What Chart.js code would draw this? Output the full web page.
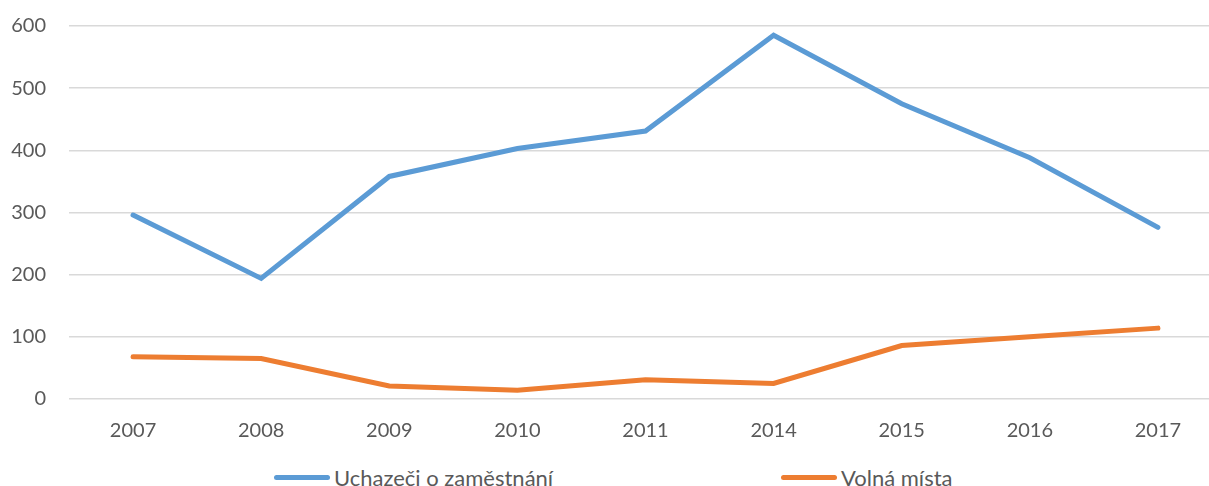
<!DOCTYPE html>
<html>
<head>
<meta charset="utf-8">
<script src="https://cdn.jsdelivr.net/npm/chart.js@4"></script>
<style>
  body { margin: 0; width: 1209px; height: 486px; overflow: hidden; background: #fff; font-family: Lato, sans-serif; }
  #wrap { position: relative; width: 1222px; height: 450px; }
  #legend { position: absolute; left: 0; top: 464px; width: 1209px; height: 26px; color: #595959; font-size: 22px; }
  .item { position: absolute; top: 0; display: flex; align-items: center; white-space: nowrap; }
  .swatch { width: 56px; height: 5px; border-radius: 3px; margin-right: 4px; }
</style>
</head>
<body>
<div id="wrap"><canvas id="lineChart"></canvas></div>
<div id="legend"></div>
<script>
// data
const years = ['2007', '2008', '2009', '2010', '2011', '2014', '2015', '2016', '2017'];
const uchazeci = [296, 194, 358, 403, 431, 585, 475, 388, 276];
const volnaMista = [68, 65, 21, 14, 31, 25, 86, 100, 114];
const seriesNames = ['Uchazeči o zaměstnání', 'Volná místa'];
const seriesColors = ['#5B9BD5', '#ED7D31'];

const ctx = document.getElementById('lineChart').getContext('2d');
const lineChart = new Chart(ctx, {
    type: 'line',
    data: {
        labels: years,
        datasets: [{
            label: seriesNames[0],
            data: uchazeci,
            borderColor: seriesColors[0],
            backgroundColor: seriesColors[0],
            borderWidth: 5,
            borderCapStyle: 'round',
            pointRadius: 0,
            tension: 0
        }, {
            label: seriesNames[1],
            data: volnaMista,
            borderColor: seriesColors[1],
            backgroundColor: seriesColors[1],
            borderWidth: 5,
            borderCapStyle: 'round',
            pointRadius: 0,
            tension: 0
        }]
    },
    options: {
        responsive: true,
        maintainAspectRatio: false,
        animation: false,
        layout: { padding: { top: 26, right: 0, bottom: 0, left: 0 } },
        plugins: {
            legend: { display: false },
            tooltip: { enabled: false }
        },
        scales: {
            x: {
                offset: true,
                grid: { display: false, offset: true },
                border: { display: false },
                ticks: { color: '#595959', font: { family: 'Lato', size: 20 }, padding: 12 },
                afterFit: (s) => { s.height = 51; }
            },
            y: {
                min: 0,
                max: 600,
                grid: { color: '#d9d9d9', lineWidth: 1.5, drawTicks: false },
                border: { display: false },
                ticks: { stepSize: 100, color: '#595959', font: { family: 'Lato', size: 20 }, padding: 23 },
                afterFit: (s) => { s.width = 69; s.paddingTop = 0; s.paddingBottom = 0; }
            }
        }
    }
});

// legend laid out like the original (wide gap between the two entries)
const legendLeft = [274, 781];
const legend = document.getElementById('legend');
seriesNames.forEach((name, i) => {
    const item = document.createElement('div');
    item.className = 'item';
    item.style.left = legendLeft[i] + 'px';
    item.innerHTML = '<span class="swatch" style="background:' + seriesColors[i] + '"></span><span>' + name + '</span>';
    legend.appendChild(item);
});
</script>
</body>
</html>
